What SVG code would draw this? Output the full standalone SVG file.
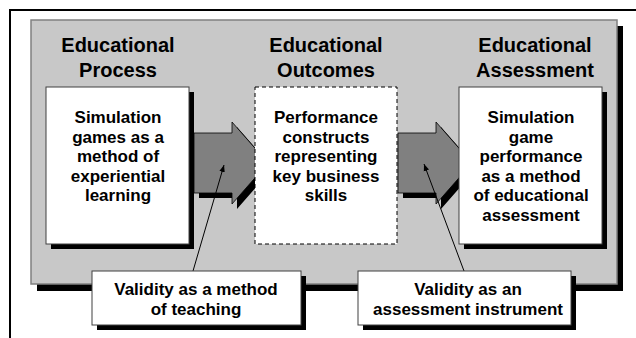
<svg xmlns="http://www.w3.org/2000/svg" width="636" height="338" viewBox="0 0 636 338">
<defs>
<style>
text{font-family:"Liberation Sans",Arial,sans-serif;font-weight:bold;fill:#000;text-anchor:middle}
.h{font-size:20px}
.t{font-size:17px}
.box{fill:#fff;stroke:#404040;stroke-width:1}
.sh{fill:#000}
.arr{fill:#808080;stroke:#000;stroke-width:0.8}
.ln{stroke:#000;stroke-width:1;fill:none;marker-end:url(#ah)}
</style>
<marker id="ah" viewBox="0 0 10 10" refX="10" refY="5" markerWidth="7" markerHeight="7" orient="auto" markerUnits="userSpaceOnUse">
<path d="M0,1 L10,5 L0,9 Z" fill="#000"/>
</marker>
<polygon id="arrowShape" points="0,11 38,11 38,0 74,41 38,82 38,71 0,71"/>
</defs>
<rect width="636" height="338" fill="#fff"/>
<g id="frame">
<path d="M10,338 V10 H636" fill="none" stroke="#000" stroke-width="2"/>
</g>
<g id="panel">
<rect x="37" y="26" width="586" height="265" class="sh"/>
<rect x="31" y="20" width="586" height="264" fill="#c8c8c8" stroke="#808080" stroke-width="1.5"/>
</g>
<g id="headings">
<text class="h" x="118" y="52">Educational</text>
<text class="h" x="118" y="77">Process</text>
<text class="h" x="326" y="52">Educational</text>
<text class="h" x="326" y="77">Outcomes</text>
<text class="h" x="535" y="52">Educational</text>
<text class="h" x="535" y="77">Assessment</text>
</g>
<g id="arrow1">
<use href="#arrowShape" x="199" y="127" class="sh"/>
<use href="#arrowShape" x="194" y="122" class="arr"/>
</g>
<g id="arrow2">
<use href="#arrowShape" x="403" y="127" class="sh"/>
<use href="#arrowShape" x="398" y="122" class="arr"/>
</g>
<g id="box1">
<rect x="51" y="92" width="143" height="157" class="sh"/>
<rect x="46" y="87" width="143" height="157" class="box"/>
<text class="t" x="118" y="123">Simulation</text>
<text class="t" x="118" y="142.5">games as a</text>
<text class="t" x="118" y="162">method of</text>
<text class="t" x="118" y="181.5">experiential</text>
<text class="t" x="118" y="201">learning</text>
</g>
<g id="box2">
<rect x="255" y="87" width="142" height="157" fill="#fff" stroke="#000" stroke-width="1" stroke-dasharray="4,3"/>
<text class="t" x="326" y="123">Performance</text>
<text class="t" x="326" y="142.5">constructs</text>
<text class="t" x="326" y="162">representing</text>
<text class="t" x="326" y="181.5">key business</text>
<text class="t" x="326" y="201">skills</text>
</g>
<g id="box3">
<rect x="464" y="92" width="143" height="157" class="sh"/>
<rect x="459" y="87" width="143" height="157" class="box"/>
<text class="t" x="531" y="123">Simulation</text>
<text class="t" x="531" y="142.5">game</text>
<text class="t" x="531" y="162">performance</text>
<text class="t" x="531" y="181.5">as a method</text>
<text class="t" x="531" y="201">of educational</text>
<text class="t" x="531" y="220.5">assessment</text>
</g>
<g id="connectors">
<line x1="193" y1="271" x2="224" y2="165" class="ln"/>
<line x1="464" y1="271" x2="424" y2="164" class="ln"/>
</g>
<g id="callout1">
<rect x="97" y="276" width="209" height="54" class="sh"/>
<rect x="92" y="271" width="209" height="54" class="box"/>
<text class="t" x="196" y="295">Validity as a method</text>
<text class="t" x="196" y="315">of teaching</text>
</g>
<g id="callout2">
<rect x="363" y="276" width="213" height="54" class="sh"/>
<rect x="358" y="271" width="213" height="54" class="box"/>
<text class="t" x="468" y="295">Validity as an</text>
<text class="t" x="468" y="315">assessment instrument</text>
</g>
</svg>
